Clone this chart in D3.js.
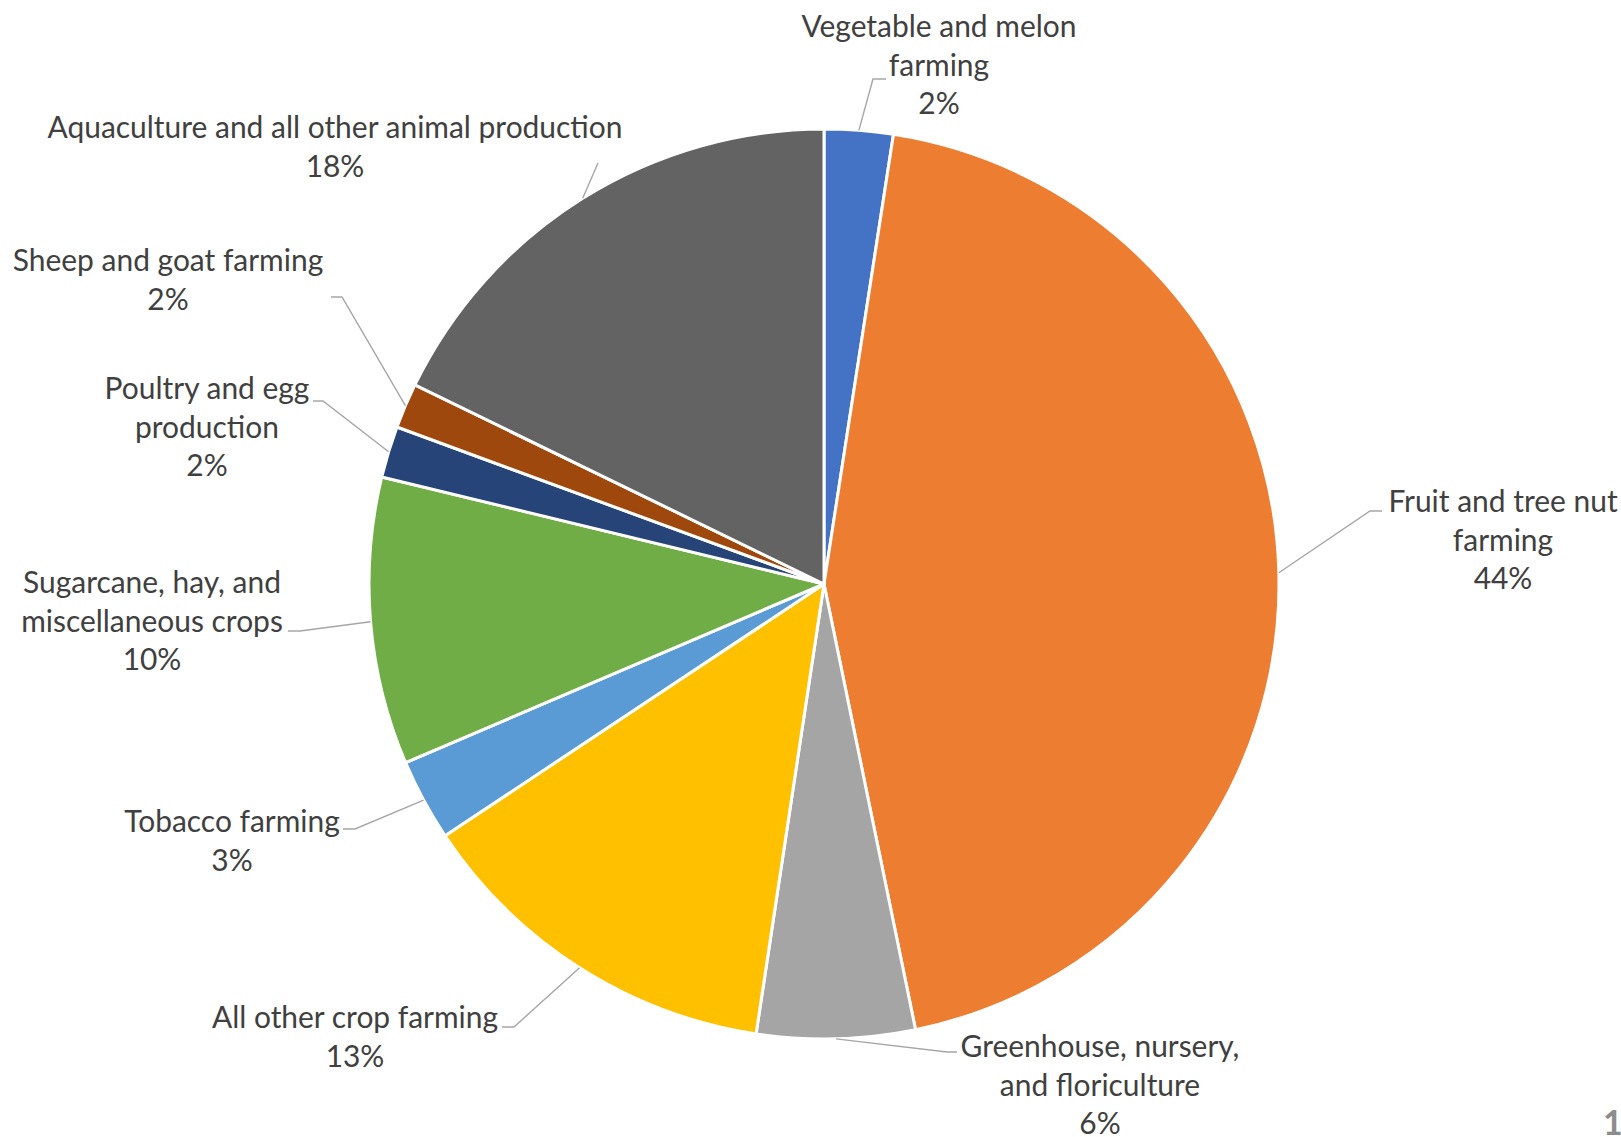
<!DOCTYPE html>
<html>
<head>
<meta charset="utf-8">
<script src="https://cdn.jsdelivr.net/npm/d3@7"></script>
<style>
  html, body { margin: 0; padding: 0; background: #ffffff; }
  svg { display: block; }
</style>
</head>
<body>
<svg id="chart" width="1621" height="1137"></svg>
<script>
// Share of establishments by agricultural sub-sector (clockwise from 12 o'clock)
const categories = [
  "Vegetable and melon farming",
  "Fruit and tree nut farming",
  "Greenhouse, nursery, and floriculture",
  "All other crop farming",
  "Tobacco farming",
  "Sugarcane, hay, and miscellaneous crops",
  "Poultry and egg production",
  "Sheep and goat farming",
  "Aquaculture and all other animal production"
];
const shares = [0.0244, 0.4433, 0.0561, 0.1328, 0.0291, 0.1020, 0.0183, 0.0160, 0.1779];
const colors = ["#4472C4", "#ED7D31", "#A5A5A5", "#FFC000", "#5B9BD5",
                "#70AD47", "#264478", "#9E480E", "#636363"];
// Category names broken into the lines shown in each label
const labelLines = [
  ["Vegetable and melon", "farming"],
  ["Fruit and tree nut", "farming"],
  ["Greenhouse, nursery,", "and floriculture"],
  ["All other crop farming"],
  ["Tobacco farming"],
  ["Sugarcane, hay, and", "miscellaneous crops"],
  ["Poultry and egg", "production"],
  ["Sheep and goat farming"],
  ["Aquaculture and all other animal production"]
];

// Label placement: centre x, first baseline, leader elbow and end point
const labelLayout = [
  { cx: 939,  y: 37,   elbow: [873, 79],     end: [886, 79] },
  { cx: 1503, y: 512,  elbow: [1370, 511],   end: [1382, 511] },
  { cx: 1100, y: 1057, elbow: [947, 1052],   end: [957, 1052] },
  { cx: 355,  y: 1028, elbow: [514, 1027],   end: [502, 1027] },
  { cx: 232,  y: 832,  elbow: [355, 829],    end: [343, 829] },
  { cx: 152,  y: 593,  elbow: [300, 631],    end: [288, 631] },
  { cx: 207,  y: 399,  elbow: [323, 401],    end: [313, 401] },
  { cx: 168,  y: 271,  elbow: [342, 297],    end: [331, 297] },
  { cx: 335,  y: 138,  elbow: null,          end: [598, 163] }
];

const width = 1621, height = 1137;
const cx = 824, cy = 584, radius = 455;
const lineGap = 38.7;
const fontFamily = "Lato, 'Open Sans', sans-serif";

const svg = d3.select("#chart");

const data = categories.map((name, i) => ({
  name, value: shares[i], color: colors[i], lines: labelLines[i], layout: labelLayout[i]
}));

const pie = d3.pie().value(d => d.value).sort(null).startAngle(0).endAngle(2 * Math.PI);
const arc = d3.arc().innerRadius(0).outerRadius(radius);
const arcs = pie(data);

const g = svg.append("g").attr("transform", `translate(${cx},${cy})`);

g.selectAll("path.slice")
  .data(arcs)
  .join("path")
  .attr("class", "slice")
  .attr("d", arc)
  .attr("fill", d => d.data.color)
  .attr("stroke", "#ffffff")
  .attr("stroke-width", 3)
  .attr("stroke-linejoin", "round");

// Size the label font so the longest label spans 575px
const probe = svg.append("text")
  .attr("font-family", fontFamily)
  .attr("font-size", 26.67)
  .text("Aquaculture and all other animal production");
const measured = probe.node().getComputedTextLength();
probe.remove();
const fontSize = 26.67 * 575 / measured;

const pct = d3.format(".0%");

// Leader lines from the middle of each slice's outer edge
const leader = d3.line();
svg.append("g")
  .selectAll("path.leader")
  .data(arcs)
  .join("path")
  .attr("class", "leader")
  .attr("fill", "none")
  .attr("stroke", "#A6A6A6")
  .attr("stroke-width", 1.4)
  .attr("d", d => {
    const a = (d.startAngle + d.endAngle) / 2;
    const p0 = [cx + radius * Math.sin(a), cy - radius * Math.cos(a)];
    const L = d.data.layout;
    const pts = L.elbow ? [p0, L.elbow, L.end] : [p0, L.end];
    return leader(pts);
  });

// Category and percentage labels
const labels = svg.append("g")
  .selectAll("text.label")
  .data(arcs)
  .join("text")
  .attr("class", "label")
  .attr("font-family", fontFamily)
  .attr("font-size", fontSize)
  .attr("fill", "#404040")
  .attr("text-anchor", "middle");

labels.each(function(d) {
  const t = d3.select(this);
  const L = d.data.layout;
  const rows = d.data.lines.concat([pct(d.data.value)]);
  rows.forEach((row, k) => {
    t.append("tspan")
      .attr("x", L.cx)
      .attr("y", L.y + k * lineGap)
      .text(row);
  });
});

// Page number in the corner
svg.append("text")
  .attr("x", 1603)
  .attr("y", 1135)
  .attr("font-family", fontFamily)
  .attr("font-weight", "bold")
  .attr("font-size", 34)
  .attr("fill", "#8C8C8C")
  .text("1");
</script>
</body>
</html>
